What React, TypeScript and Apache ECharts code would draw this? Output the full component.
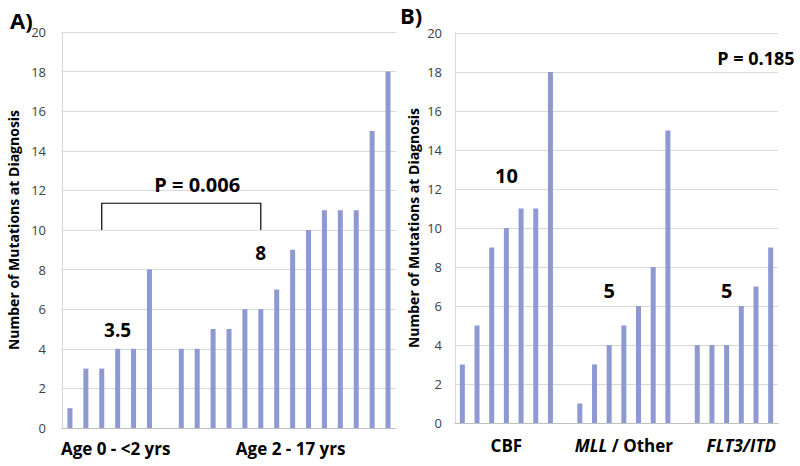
import React, { useEffect, useRef } from "react";
import * as echarts from "echarts";

// Panel A: mutations by age group (sorted per patient)
const ageUnder2 = [1, 3, 3, 4, 4, 8];
const age2to17 = [4, 4, 5, 5, 6, 6, 7, 9, 10, 11, 11, 11, 15, 18];
const ageGroups = ["Age 0 - <2 yrs", "Age 2 - 17 yrs"];
const ageMedians = ["3.5", "8"];
const ageP = "P = 0.006";

// Panel B: mutations by cytogenetic subtype
const cbf = [3, 5, 9, 10, 11, 11, 18];
const mllOther = [1, 3, 4, 5, 6, 8, 15];
const flt3Itd = [4, 4, 4, 6, 7, 9];
const subtypeGroups = ["CBF", "{i|MLL} / Other", "{i|FLT3/ITD}"];
const subtypeMedians = ["10", "5", "5"];
const subtypeP = "P = 0.185";

const yMin = 0;
const yMax = 20;
const yInterval = 2;
const yName = "Number of Mutations at Diagnosis";

const BAR = "#8f99d1";
const GRID = "#d9d9d9";
const FONT = "'Open Sans', sans-serif";

function withGaps(groups: number[][]): (number | null)[] {
  const out: (number | null)[] = [];
  groups.forEach((g, i) => {
    if (i > 0) out.push(null);
    g.forEach((v) => out.push(v));
  });
  return out;
}

export default function App() {
  const ref = useRef<HTMLDivElement>(null);
  useEffect(() => {
    if (!ref.current) return;
    const chart = echarts.init(ref.current, undefined, { renderer: "svg" });
    const leftData = withGaps([ageUnder2, age2to17]);
    const rightData = withGaps([cbf, mllOther, flt3Itd]);
    const leftCats = leftData.map((_, i) => String(i));
    const rightCats = rightData.map((_, i) => String(i));

    const yAxisBase = (gridIndex: number, margin: number, gap: number) => ({
      type: "value",
      gridIndex,
      min: yMin,
      max: yMax,
      interval: yInterval,
      name: yName,
      nameLocation: "middle",
      nameRotate: 90,
      nameGap: gap,
      nameTextStyle: { fontFamily: FONT, fontWeight: "bold", fontSize: 14, color: "#000" },
      axisLine: { show: true, lineStyle: { color: GRID } },
      axisTick: { show: false },
      axisLabel: { fontFamily: FONT, fontSize: 13, color: "#404040", margin },
      splitLine: { lineStyle: { color: GRID } },
    });
    const xAxisBase = (gridIndex: number, data: string[]) => ({
      type: "category",
      gridIndex,
      data,
      axisLine: { lineStyle: { color: "#bfbfbf" } },
      axisTick: { show: false },
      axisLabel: { show: false },
    });

    chart.setOption({
      animation: false,
      grid: [
        { left: 62, top: 32, width: 334, height: 396 },
        { left: 455, top: 33, width: 323, height: 390 },
      ],
      xAxis: [xAxisBase(0, leftCats), xAxisBase(1, rightCats)],
      yAxis: [yAxisBase(0, 16, 42), yAxisBase(1, 13, 35)],
      series: [
        { type: "bar", xAxisIndex: 0, yAxisIndex: 0, data: leftData, barWidth: 5, itemStyle: { color: BAR } },
        { type: "bar", xAxisIndex: 1, yAxisIndex: 1, data: rightData, barWidth: 5, itemStyle: { color: BAR } },
      ],
    });

    const px = (g: number, x: number, y: number) =>
      chart.convertToPixel({ gridIndex: g } as any, [x, y]) as number[];
    const txt = (p: number[], text: string, size: number, extra: any = {}) => ({
      type: "text",
      x: p[0],
      y: p[1],
      style: {
        text,
        fill: "#000",
        font: `bold ${size}px ${FONT}`,
        textAlign: "center",
        textVerticalAlign: "middle",
        ...extra,
      },
    });

    const leftStarts = [0, ageUnder2.length + 1];
    const leftLens = [ageUnder2.length, age2to17.length];
    const rightStarts = [0, cbf.length + 1, cbf.length + 1 + mllOther.length + 1];
    const rightLens = [cbf.length, mllOther.length, flt3Itd.length];
    const bottomL = px(0, 0, 0)[1] + 20;
    const bottomR = px(1, 0, 0)[1] + 22;

    const graphics: any[] = [];
    ageGroups.forEach((g, i) => {
      const c = leftStarts[i] + (leftLens[i] - 1) / 2;
      graphics.push(txt([px(0, c, 0)[0] - 2, bottomL], g, 17));
    });
    const rich = { i: { fontStyle: "italic", fontWeight: "bold", fontSize: 17, fontFamily: FONT } };
    subtypeGroups.forEach((g, i) => {
      const c = rightStarts[i] + (rightLens[i] - 1) / 2;
      graphics.push(txt([px(1, c, 0)[0], bottomR], g, 17, { rich }));
    });
    // medians
    graphics.push(txt(px(0, 2.6, 4.95), ageMedians[0], 19));
    graphics.push(txt(px(0, 12.2, 8.85), ageMedians[1], 19));
    graphics.push(txt(px(1, 3.25, 12.7), subtypeMedians[0], 20));
    graphics.push(txt(px(1, 10.25, 6.8), subtypeMedians[1], 20));
    graphics.push(txt(px(1, 17.5, 6.8), subtypeMedians[2], 20));
    // p values
    graphics.push(txt(px(0, 7.85, 12.3), ageP, 20));
    graphics.push(txt(px(1, 19.8, 18.7), subtypeP, 18));
    // bracket
    const b1 = px(0, 2, 10);
    const b2 = px(0, 2, 11.35);
    const b3 = px(0, 11.8, 11.35);
    const b4 = px(0, 11.8, 10);
    graphics.push({
      type: "polyline",
      shape: { points: [b1, b2, b3, b4] },
      style: { stroke: "#000", lineWidth: 1.2, fill: null },
    });
    // panel letters
    graphics.push({ type: "text", left: 10, top: 9, style: { text: "A)", font: `bold 22px ${FONT}`, fill: "#000" } });
    graphics.push({ type: "text", left: 400, top: 4, style: { text: "B)", font: `bold 22px ${FONT}`, fill: "#000" } });

    chart.setOption({ graphic: graphics });
    return () => chart.dispose();
  }, []);
  return <div ref={ref} style={{ width: 800, height: 466, position: "absolute", left: 0, top: 0 }} />;
}
